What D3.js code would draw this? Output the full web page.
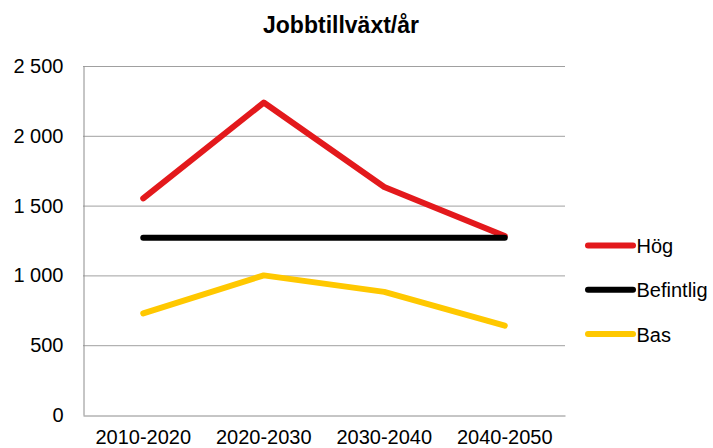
<!DOCTYPE html>
<html>
<head>
<meta charset="utf-8">
<script src="https://cdn.jsdelivr.net/npm/d3@7"></script>
<style>
  html, body { margin: 0; padding: 0; background: #fff; }
  svg { display: block; font-family: "Liberation Sans", Arial, sans-serif; }
</style>
</head>
<body>
<svg id="chart" width="713" height="448"></svg>
<script>
// Job growth per year, by decade and scenario
const periods = ["2010-2020", "2020-2030", "2030-2040", "2040-2050"];
const hog = [1552, 2238, 1633, 1282];
const befintlig = [1270, 1270, 1270, 1270];
const bas = [728, 1000, 882, 640];
const yTicks = [0, 500, 1000, 1500, 2000, 2500];

const series = [
  { name: "Hög", values: hog, color: "#E3191C" },
  { name: "Befintlig", values: befintlig, color: "#000000" },
  { name: "Bas", values: bas, color: "#FFC800" }
];

const svg = d3.select("#chart");
const plotLeft = 83, plotRight = 565, plotTop = 66, plotBottom = 415;
const labelSize = 20;

const x = d3.scaleBand().domain(periods).range([plotLeft, plotRight]);
const y = d3.scaleLinear().domain([0, 2500]).range([plotBottom, plotTop]);

// Horizontal gridlines
svg.append("g")
  .selectAll("line")
  .data(yTicks.filter(d => d > 0))
  .join("line")
  .attr("x1", plotLeft).attr("x2", plotRight)
  .attr("y1", d => y(d) + 0.5).attr("y2", d => y(d) + 0.5)
  .attr("stroke", "#a0a0a0").attr("stroke-width", 1);

// Y axis
const yAxis = d3.axisLeft(y).tickValues(yTicks).tickSize(0).tickPadding(20)
  .tickFormat(d => d3.format(",")(d).replace(/,/g, "\u00a0"));
const gy = svg.append("g").attr("transform", `translate(${plotLeft + 0.5},0)`).call(yAxis);
gy.select(".domain").attr("stroke", "#8c8c8c");
gy.selectAll("text").attr("font-size", labelSize).attr("fill", "#000")
  .attr("font-family", "Liberation Sans, Arial, sans-serif");

// X axis
const xAxis = d3.axisBottom(x).tickSize(0).tickPadding(14);
const gx = svg.append("g").attr("transform", `translate(0,${plotBottom + 0.5})`).call(xAxis);
gx.select(".domain").attr("stroke", "#8c8c8c");
gx.selectAll("text").attr("font-size", labelSize).attr("fill", "#000")
  .attr("font-family", "Liberation Sans, Arial, sans-serif");

// Lines
const line = d3.line()
  .x((d, i) => x(periods[i]) + x.bandwidth() / 2)
  .y(d => y(d));

svg.append("g")
  .selectAll("path")
  .data(series)
  .join("path")
  .attr("d", s => line(s.values))
  .attr("fill", "none")
  .attr("stroke", s => s.color)
  .attr("stroke-width", 6)
  .attr("stroke-linecap", "round")
  .attr("stroke-linejoin", "round");

// Title
svg.append("text")
  .attr("x", 341).attr("y", 33)
  .attr("text-anchor", "middle")
  .attr("font-size", 23).attr("font-weight", "bold")
  .text("Jobbtillväxt/år");

// Legend
const legend = svg.append("g")
  .selectAll("g")
  .data(series)
  .join("g")
  .attr("transform", (d, i) => `translate(588,${245.5 + i * 44.3})`);

legend.append("line")
  .attr("x1", 0).attr("x2", 45)
  .attr("stroke", d => d.color)
  .attr("stroke-width", 6)
  .attr("stroke-linecap", "round");

legend.append("text")
  .attr("x", 48.5).attr("y", 7.5)
  .attr("font-size", labelSize)
  .text(d => d.name);
</script>
</body>
</html>
